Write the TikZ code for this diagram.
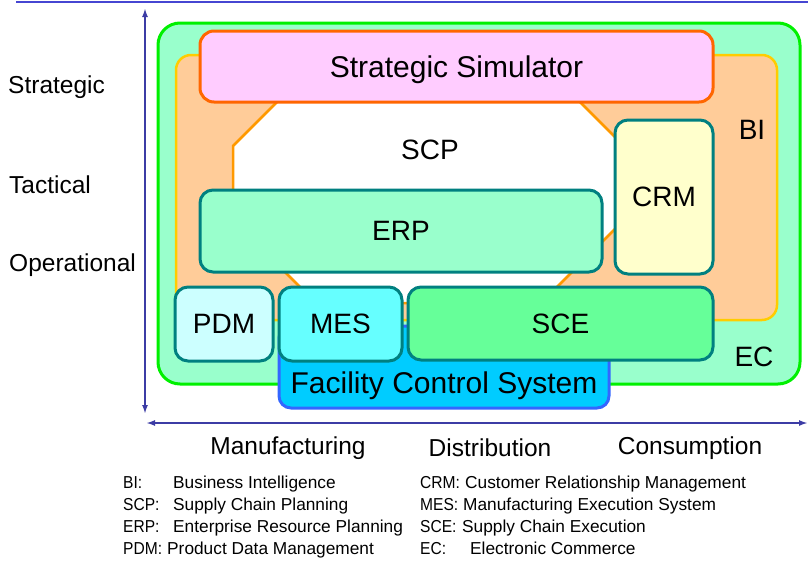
\documentclass[tikz,border=0pt]{standalone}
\usepackage{fontspec}
\setmainfont{Liberation Sans}
\newfontfamily\legfont{Liberation Sans}
\newfontfamily\codefont[FakeStretch=0.9]{Liberation Sans}
\usetikzlibrary{arrows.meta}
\definecolor{axisblue}{RGB}{60,60,165}
\definecolor{topblue}{RGB}{70,70,210}
\definecolor{ecfill}{RGB}{153,255,204}
\definecolor{ecdraw}{RGB}{0,240,0}
\definecolor{bifill}{RGB}{255,204,153}
\definecolor{bidraw}{RGB}{255,204,0}
\definecolor{scpdraw}{RGB}{255,153,0}
\definecolor{simfill}{RGB}{255,204,255}
\definecolor{simdraw}{RGB}{255,102,0}
\definecolor{tealdraw}{RGB}{0,128,128}
\definecolor{erpfill}{RGB}{153,255,204}
\definecolor{crmfill}{RGB}{255,255,204}
\definecolor{pdmfill}{RGB}{204,255,255}
\definecolor{mesfill}{RGB}{102,255,255}
\definecolor{scefill}{RGB}{102,255,153}
\definecolor{fcsfill}{RGB}{0,204,255}
\definecolor{fcsdraw}{RGB}{51,102,255}
\tikzset{
  bigtxt/.style={font=\fontsize{28}{28}\selectfont},
  sidetxt/.style={font=\fontsize{24.5}{24.5}\selectfont},
  legtxt/.style={font=\legfont\fontsize{17.3}{17.3}\selectfont, anchor=base west, inner sep=0pt},
  codetxt/.style={font=\codefont\fontsize{17.3}{17.3}\selectfont, anchor=base west, inner sep=0pt},
  box/.style={rectangle, inner sep=0pt, text depth=0pt, bigtxt},
  tealbox/.style={box, draw=tealdraw, line width=3pt, rounded corners=13pt},
  axisline/.style={draw=axisblue, line width=1.8pt, {Latex[length=9pt,width=6pt]}-{Latex[length=9pt,width=6pt]}},
}
\begin{document}
\begin{tikzpicture}[x=1pt,y=-1pt]
\useasboundingbox (0,0) rectangle (808,562);
% top line
\coordinate (tl) at (16,1.5);
\coordinate (tr) at (808,1.5);
\draw[topblue, line width=2pt] (tl) -- (tr);
% EC
\node[box, draw=ecdraw, fill=ecfill, line width=3pt, rounded corners=22pt,
      minimum width=642pt, minimum height=361pt] (ec) at (479,203.5) {};
\node[bigtxt] (eclab) at (754,357) {EC};
% BI
\node[box, draw=bidraw, fill=bifill, line width=2.5pt, rounded corners=15pt,
      minimum width=601pt, minimum height=265pt] (bi) at (476.5,187.5) {};
\node[bigtxt] (bilab) at (752,130) {BI};
% SCP octagon
\draw[draw=scpdraw, fill=white, line width=2.5pt, line join=miter]
  (316,63) -- (541,63) -- (624,146) -- (624,220) -- (541,303) -- (316,303) -- (233,220) -- (233,146) -- cycle;
\node[bigtxt] (scp) at (430,150) {SCP};
% Strategic simulator
\node[box, draw=simdraw, fill=simfill, line width=3pt, rounded corners=14pt,
      minimum width=513pt, minimum height=71pt, font=\fontsize{30}{30}\selectfont] (sim) at (456.5,66.5) {Strategic Simulator};
% ERP
\node[tealbox, fill=erpfill, minimum width=402pt, minimum height=82pt] (erp) at (401,231) {ERP};
% CRM
\node[tealbox, fill=crmfill, minimum width=98pt, minimum height=154pt] (crm) at (664,197) {CRM};
% Facility Control System
\node[box, draw=fcsdraw, fill=fcsfill, line width=3pt, rounded corners=12pt,
      minimum width=330pt, minimum height=82pt] (fcs) at (444,367) {};
\node[font=\fontsize{30}{30}\selectfont, text depth=0pt, inner sep=0pt] (fcslab) at (444,383) {Facility Control System};
% PDM, MES, SCE
\node[tealbox, fill=pdmfill, minimum width=98pt, minimum height=74pt] (pdm) at (224,324) {PDM};
\node[tealbox, fill=mesfill, minimum width=123pt, minimum height=74pt] (mes) at (340.5,324) {MES};
\node[tealbox, fill=scefill, minimum width=305pt, minimum height=73pt] (sce) at (560.5,323.5) {SCE};
% axes
\coordinate (vtop) at (145,8);
\coordinate (vbot) at (145,414);
\coordinate (hl) at (146,423);
\coordinate (hr) at (808,423);
\draw[axisline] (vtop) -- (vbot);
\draw[axisline] (hl) -- (hr);
% side labels
\node[sidetxt, anchor=west, inner sep=0pt] (strat) at (8,87.5) {Strategic};
\node[sidetxt, anchor=west, inner sep=0pt] (tact) at (9,184.5) {Tactical};
\node[sidetxt, anchor=west, inner sep=0pt] (oper) at (9,265.5) {Operational};
\node[sidetxt] (manu) at (288,448) {Manufacturing};
\node[sidetxt] (dist) at (490,448) {Distribution};
\node[sidetxt] (cons) at (690,448) {Consumption};
% legend
\node[codetxt] (l1a) at (123,488) {BI:};
\node[legtxt] (l1b) at (173,488) {Business Intelligence};
\node[codetxt] (l2a) at (123,510) {SCP:};
\node[legtxt] (l2b) at (173,510) {Supply Chain Planning};
\node[codetxt] (l3a) at (123,532) {ERP:};
\node[legtxt] (l3b) at (173,532) {Enterprise Resource Planning};
\node[codetxt] (l4a) at (123,554) {PDM:};
\node[legtxt] (l4b) at (167,554) {Product Data Management};
\node[codetxt] (r1a) at (420,488) {CRM:};
\node[legtxt] (r1b) at (465,488) {Customer Relationship Management};
\node[codetxt] (r2a) at (420,510) {MES:};
\node[legtxt] (r2b) at (463,510) {Manufacturing Execution System};
\node[codetxt] (r3a) at (420,532) {SCE:};
\node[legtxt] (r3b) at (462,532) {Supply Chain Execution};
\node[codetxt] (r4a) at (420,554) {EC:};
\node[legtxt] (r4b) at (470,554) {Electronic Commerce};
\end{tikzpicture}
\end{document}
